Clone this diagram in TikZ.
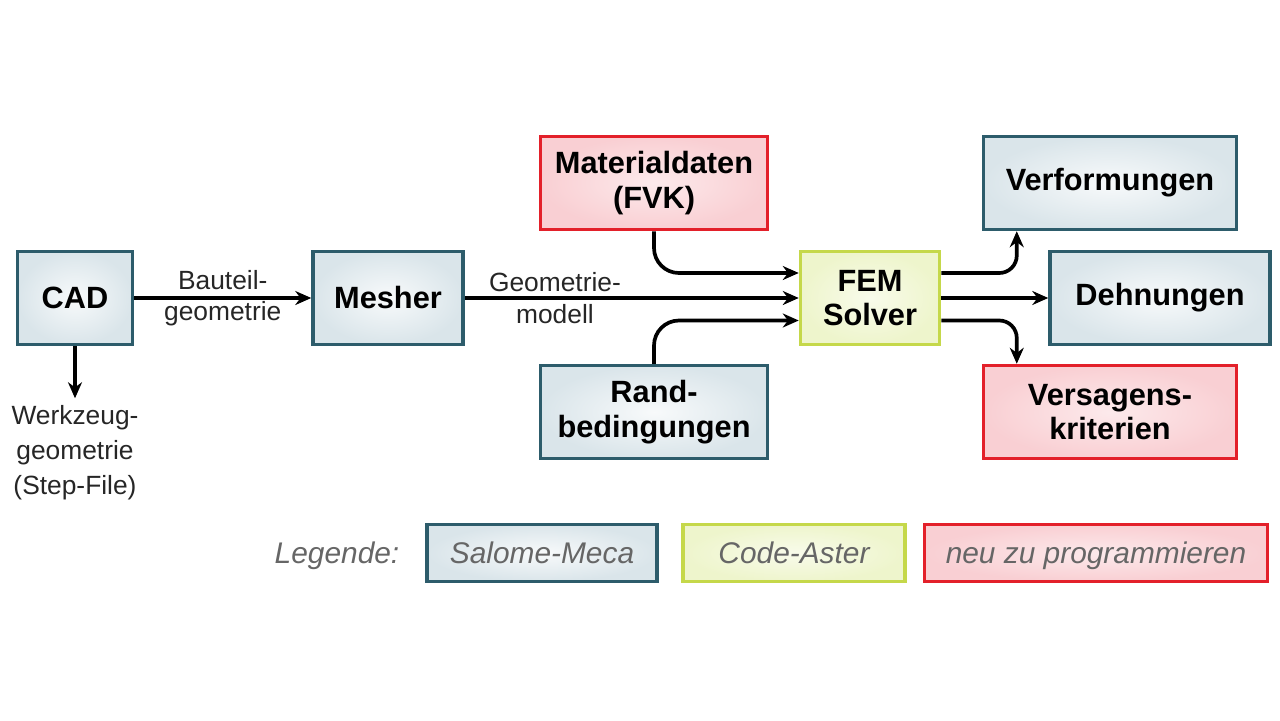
\documentclass[tikz,border=0pt]{standalone}
\usepackage{fontspec}
\setmainfont{Liberation Sans}
\usepackage{xcolor}
\usetikzlibrary{arrows.meta,positioning,shadows}

\definecolor{salomeline}{HTML}{2D5C6B}
\definecolor{salomefill}{HTML}{DAE5EA}
\definecolor{asterline}{HTML}{C5D84A}
\definecolor{asterfill}{HTML}{EEF5CC}
\definecolor{neuline}{HTML}{E3202A}
\definecolor{neufill}{HTML}{F9CFD3}
\definecolor{leggrey}{HTML}{666666}

\begin{document}
\begin{tikzpicture}[
    x=0.02cm, y=-0.02cm,
    salomecol/.style={draw=salomeline, inner color=white!80!salomefill, outer color=salomefill},
    astercol/.style={draw=asterline, inner color=white!60!asterfill, outer color=asterfill},
    neucol/.style={draw=neuline, inner color=white!55!neufill, outer color=neufill},
    box/.style={rectangle, line width=2pt, minimum height=1.86cm, align=center,
        font=\fontsize{17.5}{19.5}\selectfont\bfseries,
        drop shadow={opacity=0.2, shadow xshift=1pt, shadow yshift=-1pt}},
    legtext/.style={text height=12.2pt, text depth=0pt,
        font=\fontsize{17}{20}\selectfont\itshape, text=leggrey},
    legbox/.style={legtext, rectangle, line width=2pt, minimum height=1.14cm},
    lbl/.style={align=center, inner sep=1pt, font=\fontsize{15}{18}\selectfont, text=black!85},
    arr/.style={-{Stealth[length=3.2mm, width=2.8mm]}, line width=2.1pt}
]
\useasboundingbox (0,0) rectangle (1280,720);

% Prozesskette
\node[box, salomecol, minimum width=2.3cm] (cad) at (75,298) {CAD};
\node[box, salomecol, minimum width=3cm] (mesher) at (388,298) {Mesher};
\node[box, neucol, minimum width=4.54cm] (matdat) at (654,183) {Materialdaten\\(FVK)};
\node[box, salomecol, minimum width=4.54cm] (rand) at (654,412) {Rand-\\bedingungen};
\node[box, astercol, minimum width=2.78cm] (fem) at (870,298) {FEM\\Solver};
\node[box, salomecol, minimum width=5.06cm] (verf) at (1110,183) {Verformungen};
\node[box, salomecol, minimum width=4.4cm] (dehn) at (1160,298) {Dehnungen};
\node[box, neucol, minimum width=5.06cm] (versag) at (1110,412) {Versagens-\\kriterien};

\node[lbl, inner sep=4pt, font=\fontsize{15}{20}\selectfont, below=1.04cm of cad] (werkzeug) {Werkzeug-\\geometrie\\(Step-File)};

\draw[arr] (cad) -- node[lbl] {Bauteil-\\geometrie} (mesher);
\draw[arr] (cad) -- (werkzeug);
\draw[arr] (mesher) -- node[lbl, pos=0.27] {Geometrie-\\modell} (fem);
\draw[arr, rounded corners=5mm] (matdat.south) |- ([yshift=5mm]fem.west);
\draw[arr, rounded corners=5mm] (rand.north) |- ([yshift=-4.5mm]fem.west);
\draw[arr, rounded corners=3.5mm] ([yshift=5mm]fem.east) -| ([xshift=7mm]verf.south west);
\draw[arr] (fem) -- (dehn);
\draw[arr, rounded corners=3.5mm] ([yshift=-4.5mm]fem.east) -| ([xshift=7mm]versag.north west);

% Legende
\node[legtext] (legende) at (337,553) {Legende:};
\node[legbox, salomecol, minimum width=4.6cm] (legsalome) at (542,553) {Salome-Meca};
\node[legbox, astercol, minimum width=4.44cm] (legaster) at (794,553) {Code-Aster};
\node[legbox, neucol, minimum width=6.86cm] (legneu) at (1096,553) {neu zu programmieren};
\end{tikzpicture}
\end{document}
